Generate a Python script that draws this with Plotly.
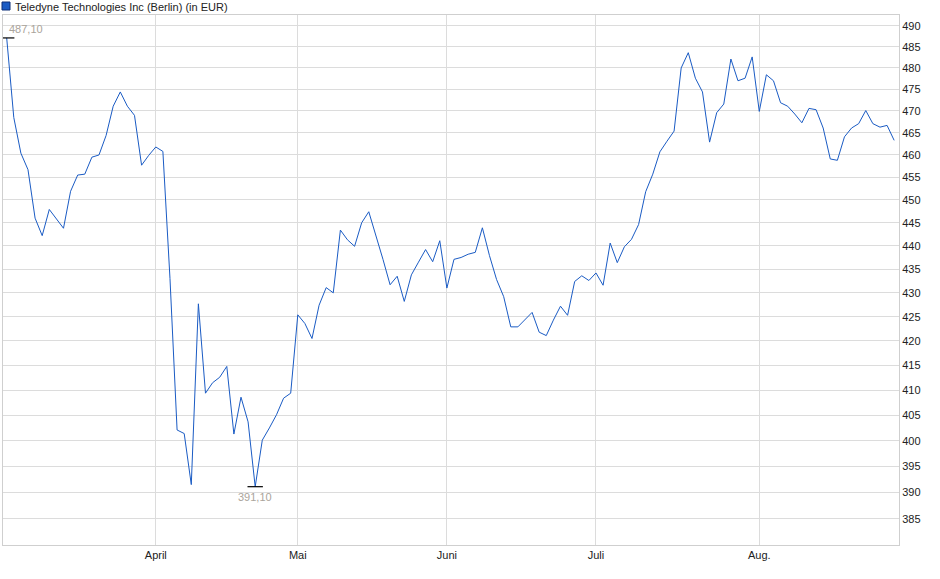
import math
import pandas as pd
import plotly.graph_objects as go

# Trading days at the Berlin exchange, 3 March - 28 August 2025
holidays = ["2025-04-18", "2025-04-21", "2025-05-01"]
dates = pd.bdate_range("2025-03-03", "2025-08-28", freq="C", holidays=holidays)
dates = [d.strftime("%Y-%m-%d") for d in dates]

# Closing prices in EUR
prices = [
    487.1, 468.5, 460.4, 456.7, 446.0, 442.2, 447.9, 445.8, 443.8, 451.9,
    455.5, 455.7, 459.5, 460.0, 464.4, 471.1, 474.4, 471.1, 469.0, 457.7,
    459.9, 461.8, 460.8, 433.0, 402.1, 401.4, 391.5, 427.7, 409.4, 411.5,
    412.6, 414.8, 401.3, 408.6, 403.7, 391.1, 400.1, 402.5, 405.1, 408.4,
    409.4, 425.4, 423.6, 420.5, 427.4, 431.1, 430.0, 443.4, 441.3, 439.9,
    445.0, 447.4, 442.3, 437.1, 431.7, 433.5, 428.2, 433.8, 436.5, 439.2,
    436.6, 441.1, 431.0, 437.1, 437.5, 438.2, 438.6, 443.9, 437.9, 432.8,
    429.2, 422.9, 422.9, 424.3, 425.9, 421.8, 421.1, 424.3, 427.2, 425.3,
    432.4, 433.6, 432.6, 434.2, 431.6, 440.6, 436.4, 439.8, 441.4, 444.6,
    451.8, 455.7, 460.7, 463.1, 465.4, 480.0, 483.6, 477.6, 474.4, 462.9,
    469.6, 471.6, 482.1, 477.0, 477.6, 482.6, 469.9, 478.4, 477.0, 471.9,
    471.1, 469.3, 467.3, 470.6, 470.3, 466.1, 459.1, 458.8, 464.1, 466.1,
    467.1, 470.1, 467.1, 466.3, 466.7, 463.3,
]

month_ticks = ["2025-04-01", "2025-05-02", "2025-06-02", "2025-07-01", "2025-08-01"]
month_labels = ["April", "Mai", "Juni", "Juli", "Aug."]
y_ticks = [385, 390, 395, 400, 405, 410, 415, 420, 425, 430, 435, 440,
           445, 450, 455, 460, 465, 470, 475, 480, 485, 490]

LINE_BLUE = "#1a5bc4"
GRID = "#dcdcdc"
LABEL_GREY = "#aaa49b"
FONT = "Liberation Sans, Arial"

hi = prices.index(max(prices))
lo = prices.index(min(prices))


def de_num(v):
    return f"{v:.2f}".replace(".", ",")


fig = go.Figure()
fig.add_trace(go.Scatter(
    x=dates, y=prices, mode="lines",
    line=dict(color=LINE_BLUE, width=1),
    showlegend=False,
))
# small black bars marking high and low
fig.add_trace(go.Scatter(
    x=[dates[hi], dates[lo]], y=[prices[hi], prices[lo]], mode="markers",
    marker=dict(symbol="line-ew", size=11, line=dict(color="black", width=1.2)),
    showlegend=False, hoverinfo="skip",
))

# log axis -> annotation y in log10 units
fig.add_annotation(x=dates[hi], y=math.log10(prices[hi]), text=de_num(prices[hi]),
                   showarrow=False, xanchor="left", yanchor="bottom", xshift=0, yshift=1,
                   font=dict(family=FONT, size=11, color=LABEL_GREY))
fig.add_annotation(x=dates[lo], y=math.log10(prices[lo]), text=de_num(prices[lo]),
                   showarrow=False, xanchor="center", yanchor="top", yshift=-2,
                   font=dict(family=FONT, size=11, color=LABEL_GREY))

# title with the blue square
fig.add_shape(type="rect", xref="paper", yref="paper",
              xsizemode="pixel", ysizemode="pixel", xanchor=0, yanchor=1,
              x0=-1, x1=7, y0=5, y1=13,
              fillcolor=LINE_BLUE, line=dict(color="#0d2f78", width=1))
fig.add_annotation(xref="paper", yref="paper", x=0, y=1, xshift=10, yshift=8,
                   xanchor="left", yanchor="middle", showarrow=False,
                   text="Teledyne Technologies Inc (Berlin) (in EUR)",
                   font=dict(family=FONT, size=11, color="#222222"))

fig.update_layout(
    width=940, height=579,
    margin=dict(l=3, r=41, t=15, b=34),
    plot_bgcolor="white", paper_bgcolor="white",
    font=dict(family=FONT, size=11, color="#222222"),
    xaxis=dict(
        type="category", range=[-0.52, len(dates) - 0.32],
        tickvals=month_ticks, ticktext=month_labels,
        showgrid=True, gridcolor=GRID, gridwidth=1,
        showline=True, linecolor="#cfcfcf", mirror=True,
        ticks="", zeroline=False,
    ),
    yaxis=dict(
        type="log", side="right",
        range=[2.57990, 2.69249],
        tickvals=y_ticks, ticktext=[str(v) for v in y_ticks],
        showgrid=True, gridcolor=GRID, gridwidth=1,
        showline=True, linecolor="#cfcfcf", mirror=True,
        ticks="", zeroline=False,
    ),
)

# page body margin would push the chart off its place
fig.write_html("out.html", config={"displayModeBar": False},
               post_script="document.body.style.margin='0';")
